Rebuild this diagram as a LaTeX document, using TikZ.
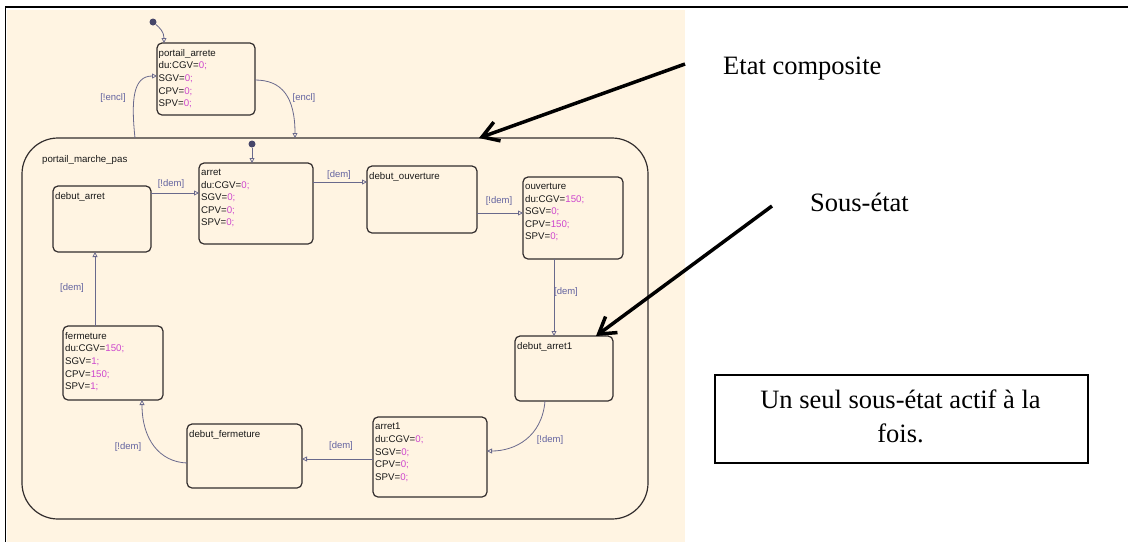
\documentclass[tikz,border=0pt]{standalone}
\usepackage{fontspec}
\setmainfont{Liberation Serif}
\newfontfamily\arialf{Liberation Sans}
\usetikzlibrary{arrows.meta,calc}
\definecolor{beige}{RGB}{255,244,226}
\definecolor{trans}{RGB}{105,105,140}
\definecolor{lblc}{RGB}{100,100,160}
\definecolor{valc}{RGB}{205,70,205}
\definecolor{boxc}{RGB}{50,45,45}
\definecolor{dotc}{RGB}{70,70,105}
\newcommand{\vv}[1]{\textcolor{valc}{#1}}
\begin{document}
\begin{tikzpicture}[x=1pt,y=-1pt,
 stbox/.style={draw=boxc, line width=1.2pt, rounded corners=5pt, anchor=north west, inner sep=0pt, outer sep=0pt},
 compbox/.style={draw=boxc, line width=1.2pt, rounded corners=36pt, anchor=north west, inner sep=0pt, outer sep=0pt},
 sttext/.style={anchor=north west, inner sep=0pt, align=left, font=\arialf\fontsize{9.7}{12.6}\selectfont, text=black!90},
 lbl/.style={font=\arialf\fontsize{9.5}{11}\selectfont, text=lblc, inner sep=0pt},
 tr/.style={draw=trans, line width=0.8pt, -{Triangle[open,length=5pt,width=5pt]}},
 big/.style={line width=3.5pt, -{Straight Barb[length=16pt,width=20pt]}},
 note/.style={font=\fontsize{26.5}{34.5}\selectfont, inner sep=0pt},
 initdot/.style={circle, fill=dotc, inner sep=0pt, minimum size=7pt}]

\useasboundingbox (0,0) rectangle (1128,542);
\fill[beige] (6.5,10) rectangle (685,542);
\draw[line width=2pt] (5,7) -- (1128,7);
\draw[line width=1.5pt] (5.5,7) -- (5.5,542);

% composite state
\node[compbox, minimum width=626pt, minimum height=381pt] (comp) at (22,138) {};
\node[sttext] (comp-t) at (42,155) {portail\_marche\_pas};

% top state
\node[stbox, minimum width=98pt, minimum height=72pt] (pa) at (157,43) {};
\node[sttext] (pa-t) at ($(pa.north west)+(1.5,6)$) {portail\_arrete\\du:CGV=\vv{0;}\\SGV=\vv{0;}\\CPV=\vv{0;}\\SPV=\vv{0;}};

% sub-states
\node[stbox, minimum width=98pt, minimum height=66pt] (da) at (53,186) {};
\node[sttext] (da-t) at ($(da.north west)+(2,6)$) {debut\_arret};

\node[stbox, minimum width=114pt, minimum height=81pt] (ar) at (199,163) {};
\node[sttext] (ar-t) at ($(ar.north west)+(2,6)$) {arret\\du:CGV=\vv{0;}\\SGV=\vv{0;}\\CPV=\vv{0;}\\SPV=\vv{0;}};

\node[stbox, minimum width=110pt, minimum height=67pt] (do) at (367,166) {};
\node[sttext] (do-t) at ($(do.north west)+(2,6)$) {debut\_ouverture};

\node[stbox, minimum width=100pt, minimum height=82pt] (ov) at (523,177) {};
\node[sttext] (ov-t) at ($(ov.north west)+(2,6)$) {ouverture\\du:CGV=\vv{150;}\\SGV=\vv{0;}\\CPV=\vv{150;}\\SPV=\vv{0;}};

\node[stbox, minimum width=98pt, minimum height=65pt] (da1) at (515,336) {};
\node[sttext] (da1-t) at ($(da1.north west)+(2,6)$) {debut\_arret1};

\node[stbox, minimum width=114pt, minimum height=80pt] (a1) at (373,417) {};
\node[sttext] (a1-t) at ($(a1.north west)+(2,6)$) {arret1\\du:CGV=\vv{0;}\\SGV=\vv{0;}\\CPV=\vv{0;}\\SPV=\vv{0;}};

\node[stbox, minimum width=115pt, minimum height=64pt] (df) at (187,424) {};
\node[sttext] (df-t) at ($(df.north west)+(2,6)$) {debut\_fermeture};

\node[stbox, minimum width=100pt, minimum height=74pt] (fe) at (63,326) {};
\node[sttext] (fe-t) at ($(fe.north west)+(2,6)$) {fermeture\\du:CGV=\vv{150;}\\SGV=\vv{1;}\\CPV=\vv{150;}\\SPV=\vv{1;}};

% initial transitions
\node[initdot] (i1) at (153,22) {};
\draw[tr] (i1) .. controls (160,28) and (164,32) .. ($(pa.north west)+(7,0)$);
\node[initdot] (i2) at (252,144) {};
\draw[tr] (i2) -- ($(ar.north west)+(53,0)$);

% transitions
\draw[tr] ($(comp.north west)+(113,0)$) .. controls (131,100) and (133,76) .. ($(pa.north west)+(0,33)$);
\draw[tr] ($(pa.north east)+(0,37)$) .. controls (282,80) and (295,97) .. ($(comp.north west)+(273,0)$);
\draw[tr] ($(da.north east)+(0,7)$) -- ($(ar.north west)+(0,30)$);
\draw[tr] ($(ar.north east)+(0,19)$) -- ($(do.north west)+(0,16)$);
\draw[tr] ($(do.north east)+(0,47)$) -- ($(ov.north west)+(0,36)$);
\draw[tr] ($(ov.south west)+(31,0)$) -- ($(da1.north west)+(39,0)$);
\draw[tr] ($(da1.south west)+(30,0)$) .. controls (542,437) and (515,451) .. ($(a1.north east)+(0,34)$);
\draw[tr] ($(a1.north west)+(0,42)$) -- ($(df.north east)+(0,35)$);
\draw[tr] ($(df.north west)+(0,39)$) .. controls (160,462) and (142,440) .. ($(fe.south west)+(79,0)$);
\draw[tr] ($(fe.north west)+(32,0)$) -- ($(da.south west)+(42,0)$);

% labels
\node[lbl] (l1) at (113,98) {[!encl]};
\node[lbl] (l2) at (304,98) {[encl]};
\node[lbl] (l3) at (171,184) {[!dem]};
\node[lbl] (l4) at (339,175) {[dem]};
\node[lbl] (l5) at (499,201) {[!dem]};
\node[lbl] (l6) at (566,292) {[dem]};
\node[lbl] (l7) at (550,440) {[!dem]};
\node[lbl] (l8) at (341,446) {[dem]};
\node[lbl] (l9) at (128,447) {[!dem]};
\node[lbl] (l10) at (72,288) {[dem]};

% annotations
\node[note, anchor=base west] (n1) at (723,74) {Etat composite};
\node[note, anchor=base west] (n2) at (810,211) {Sous-état};
\node[draw, line width=1.5pt, minimum width=373pt, minimum height=88pt, anchor=north west, inner sep=0pt] (nb) at (714,374) {};
\node[note, align=center] (nt) at (900.5,416.5) {Un seul sous-état actif à la\\fois.};

\coordinate (a1s) at (685,64);
\draw[big] (a1s) -- ($(comp.north west)+(457,0)$);
\coordinate (a2s) at (772,206);
\draw[big] (a2s) -- ($(da1.north west)+(81,0)$);
\end{tikzpicture}
\end{document}
